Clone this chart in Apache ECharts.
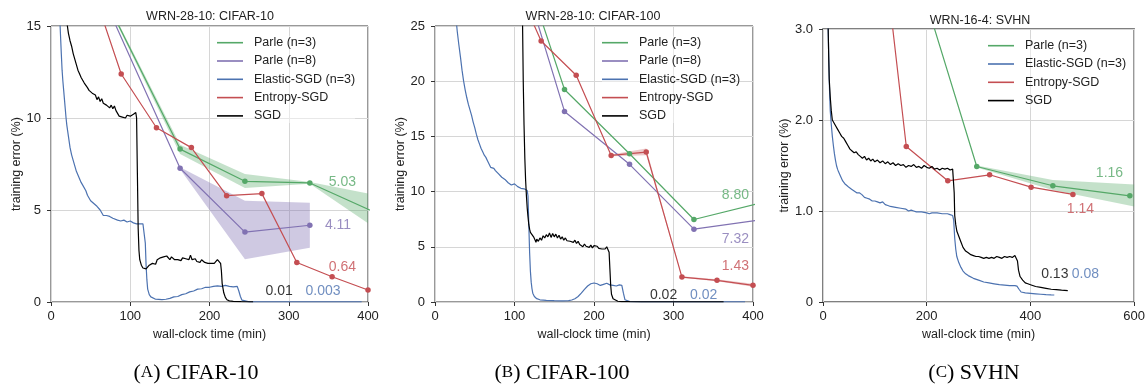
<!DOCTYPE html>
<html>
<head>
<meta charset="utf-8">
<script src="https://cdn.jsdelivr.net/npm/echarts@6/dist/echarts.min.js"></script>
<style>html,body{margin:0;padding:0;background:#fff;}#c{width:1148px;height:385px;}</style>
</head>
<body>
<div id="c"></div>
<script>
// ---------------- DATA ----------------
var seriesNames = ['Parle (n=3)', 'Parle (n=8)', 'Elastic-SGD (n=3)', 'Entropy-SGD', 'SGD'];
var panelTitles = ['WRN-28-10: CIFAR-10', 'WRN-28-10: CIFAR-100', 'WRN-16-4: SVHN'];
var captions = [['A', 'CIFAR-10'], ['B', 'CIFAR-100'], ['C', 'SVHN']];
var xTicks = [[0, 100, 200, 300, 400], [0, 100, 200, 300, 400], [0, 200, 400, 600]];
var yTicks = [[0, 5, 10, 15], [0, 5, 10, 15, 20, 25], [0, 1, 2, 3]];

// Panel A: CIFAR-10
var a_parle3 = [[81, 15.4], [162.9, 8.31], [244.7, 6.56], [326.6, 6.47], [408.4, 4.88]];
var a_parle3_hi = [[81, 15.5], [162.9, 8.55], [244.7, 6.95], [326.6, 6.52], [400, 5.9]];
var a_parle3_lo = [[81, 15.3], [162.9, 8.05], [244.7, 6.2], [326.6, 6.42], [400, 4.28]];
var a_parle8 = [[80, 15.2], [162.9, 7.27], [244.7, 3.8], [326.6, 4.17]];
var a_parle8_hi = [[162.9, 7.32], [244.7, 5.5], [326.6, 5.4]];
var a_parle8_lo = [[162.9, 7.22], [244.7, 2.33], [326.6, 2.95]];
var a_entropy = [[44.1, 18.1], [88.6, 12.39], [133.1, 9.47], [177.1, 8.39], [221.6, 5.78], [266.1, 5.89], [310.2, 2.15], [354.7, 1.37], [400, 0.65]];
var a_sgd = [[19, 16.5], [20, 15.2], [22, 14.6], [24, 14.2], [26, 13.9], [28, 13.5], [30, 13.2], [32, 12.9], [34, 12.6], [36, 12.4], [38, 12.2], [40, 12.1], [42, 11.9], [44, 11.8], [46, 11.65], [48, 11.5], [50, 11.6], [52, 11.35], [54, 11.3], [56, 11.25], [58, 11.0], [60, 11.15], [62, 10.9], [64, 11.05], [66, 10.8], [68, 10.85], [70, 10.7], [72, 10.8], [74, 10.55], [76, 10.7], [78, 10.5], [80, 10.65], [82, 10.4], [84, 10.3], [86, 10.1], [88, 10.15], [90, 10.05], [92, 10.1], [94, 10.0], [96, 10.15], [98, 10.05], [100, 10.1], [102, 10.0], [104, 10.2], [106, 10.15], [107, 10.3], [108, 10.0], [109, 7.0], [110, 4.0], [111, 2.8], [112, 2.3], [114, 2.0], [116, 1.85], [118, 1.95], [120, 1.8], [122, 1.85], [124, 2.0], [126, 1.9], [128, 2.1], [130, 2.2], [132, 2.05], [134, 2.3], [136, 2.2], [138, 2.4], [140, 2.3], [142, 2.45], [144, 2.35], [146, 2.5], [148, 2.4], [150, 2.3], [152, 2.45], [154, 2.35], [156, 2.3], [158, 2.4], [160, 2.3], [162, 2.35], [164, 2.25], [166, 2.4], [168, 2.3], [170, 2.35], [172, 2.45], [174, 2.3], [176, 2.55], [178, 2.3], [180, 2.25], [182, 2.35], [184, 2.2], [186, 2.25], [188, 2.15], [190, 2.3], [192, 2.2], [194, 2.15], [196, 2.25], [198, 2.1], [200, 2.2], [202, 2.1], [204, 2.2], [206, 2.1], [208, 2.15], [210, 2.3], [212, 2.25], [214, 2.1], [215, 1.7], [216, 1.0], [218, 0.5], [220, 0.25], [222, 0.12], [225, 0.06], [230, 0.03], [240, 0.015], [255, 0.01]];
var a_elastic = [[11, 15.5], [12, 14.5], [13, 13.5], [14, 12.6], [15, 12.0], [16, 11.5], [17, 11.0], [18, 10.5], [19, 10.0], [20, 9.6], [21, 9.3], [22, 9.0], [24, 8.4], [26, 8.0], [28, 7.7], [30, 7.4], [32, 7.1], [34, 6.9], [36, 6.7], [38, 6.5], [40, 6.35], [42, 6.25], [44, 6.05], [46, 5.8], [48, 5.65], [50, 5.5], [52, 5.45], [54, 5.35], [56, 5.3], [58, 5.2], [60, 5.1], [62, 5.0], [64, 4.85], [66, 4.7], [68, 4.8], [70, 4.7], [72, 4.75], [74, 4.65], [76, 4.6], [78, 4.55], [80, 4.5], [84, 4.45], [88, 4.4], [92, 4.45], [96, 4.35], [100, 4.4], [104, 4.3], [108, 4.25], [112, 4.25], [116, 4.25], [118, 4.2], [119, 3.2], [120, 2.0], [121, 1.2], [122, 0.7], [124, 0.4], [126, 0.28], [128, 0.2], [132, 0.15], [136, 0.14], [140, 0.13], [145, 0.15], [150, 0.2], [155, 0.28], [160, 0.3], [165, 0.4], [170, 0.45], [175, 0.55], [180, 0.6], [185, 0.7], [190, 0.72], [195, 0.8], [200, 0.8], [205, 0.85], [210, 0.88], [215, 0.85], [220, 0.9], [225, 0.85], [230, 0.82], [235, 0.85], [237, 0.6], [239, 0.3], [241, 0.1], [243, 0.03], [250, 0.005], [300, 0.003], [392, 0.003]];
var a_notes = [['5.03', 367.7, 6.54, 0], ['4.11', 362.2, 4.19, 1], ['0.64', 367.7, 1.88, 3], ['0.01', 287.9, 0.58, 4], ['0.003', 343.3, 0.58, 2]];

// Panel B: CIFAR-100
var b_parle3 = [[81.5, 36.9], [162.9, 19.25], [244.7, 13.43], [325.7, 7.47], [407.5, 8.94]];
var b_parle8 = [[81.5, 36.5], [162.9, 17.26], [244.7, 12.47], [325.7, 6.6], [407.5, 7.43]];
var b_entropy = [[89, 30.85], [133.5, 23.64], [177.6, 20.54], [221.6, 13.28], [265.7, 13.58], [310.6, 2.26], [354.7, 1.96], [400, 1.51]];
var b_entropy_hi = [[221.6, 13.36], [265.7, 13.9], [310.6, 2.33], [354.7, 2.05], [400, 1.66]];
var b_entropy_lo = [[221.6, 13.2], [265.7, 13.3], [310.6, 2.2], [354.7, 1.88], [400, 1.38]];
var b_sgd = [[109, 40], [110, 26], [111, 20], [112, 16], [113, 13], [114, 11], [115, 9.6], [116, 8.5], [117, 7.7], [118, 7.0], [119, 6.6], [120, 6.3], [122, 6.1], [124, 5.9], [126, 5.6], [127, 5.4], [128, 5.7], [130, 5.5], [132, 5.8], [134, 5.6], [136, 6.0], [138, 5.8], [140, 6.1], [142, 5.9], [144, 6.25], [146, 5.85], [148, 6.2], [150, 5.9], [152, 6.15], [154, 5.8], [156, 6.05], [158, 5.7], [160, 5.9], [162, 5.6], [164, 5.8], [166, 5.55], [168, 5.7], [170, 5.5], [172, 5.65], [174, 5.4], [176, 5.6], [178, 5.3], [180, 5.5], [182, 5.2], [184, 5.3], [186, 5.0], [188, 5.25], [190, 5.05], [192, 5.2], [194, 4.95], [196, 5.15], [198, 4.9], [200, 5.1], [202, 4.95], [204, 5.05], [206, 4.85], [208, 5.0], [210, 4.8], [212, 4.95], [214, 4.8], [216, 5.0], [218, 5.1], [219, 4.5], [220, 3.0], [221, 1.5], [222, 0.7], [224, 0.3], [226, 0.15], [230, 0.07], [235, 0.04], [245, 0.025], [260, 0.02], [363, 0.02]];
var b_elastic = [[26, 26], [28, 24.5], [30, 23.3], [32, 22.2], [34, 21.0], [36, 20.0], [38, 19.2], [40, 18.5], [42, 17.9], [44, 17.4], [46, 16.9], [48, 16.3], [50, 15.8], [52, 15.2], [54, 14.7], [56, 14.3], [58, 13.9], [60, 13.6], [62, 13.3], [64, 13.1], [66, 12.8], [68, 12.5], [70, 12.2], [72, 12.3], [74, 12.1], [76, 11.9], [78, 11.8], [80, 11.6], [82, 11.5], [84, 11.3], [86, 11.2], [88, 11.1], [90, 11.0], [92, 10.8], [94, 10.7], [96, 10.6], [98, 10.6], [100, 10.7], [102, 10.6], [104, 10.45], [106, 10.4], [108, 10.3], [110, 10.3], [112, 10.25], [114, 10.2], [116, 10.1], [117, 9.6], [118, 7.0], [119, 4.5], [120, 2.8], [121, 1.8], [122, 1.2], [123, 0.8], [125, 0.5], [128, 0.3], [132, 0.2], [140, 0.15], [150, 0.12], [160, 0.1], [168, 0.12], [172, 0.18], [176, 0.3], [180, 0.5], [184, 0.8], [188, 1.15], [192, 1.45], [196, 1.65], [200, 1.72], [204, 1.65], [208, 1.5], [212, 1.6], [216, 1.7], [220, 1.55], [224, 1.5], [228, 1.45], [232, 1.55], [235, 1.5], [237, 0.8], [239, 0.2], [241, 0.06], [245, 0.03], [260, 0.02], [390, 0.02]];
var b_notes = [['8.80', 377.8, 9.7, 0], ['7.32', 377.8, 5.69, 1], ['1.43', 377.8, 3.22, 3], ['0.02', 287.5, 0.66, 4], ['0.02', 337.9, 0.66, 2]];

// Panel C: SVHN
var c_parle3 = [[148.9, 4.23], [296.5, 1.489], [443.2, 1.277], [591.7, 1.167]];
var c_parle3_hi = [[296.5, 1.5], [443.2, 1.34], [600, 1.29]];
var c_parle3_lo = [[296.5, 1.478], [443.2, 1.23], [600, 1.05]];
var c_entropy = [[80.6, 5.68], [160.6, 1.709], [240.6, 1.332], [321.3, 1.398], [401.3, 1.262], [481.9, 1.182]];
var c_sgd = [[9, 3.3], [10, 3.0], [11, 2.7], [12, 2.45], [14, 2.25], [16, 2.1], [18, 2.0], [20, 1.98], [24, 1.94], [28, 1.9], [32, 1.86], [36, 1.82], [40, 1.8], [44, 1.76], [48, 1.72], [52, 1.68], [56, 1.66], [60, 1.64], [64, 1.65], [68, 1.62], [72, 1.6], [76, 1.58], [80, 1.6], [84, 1.56], [88, 1.58], [92, 1.55], [96, 1.57], [100, 1.54], [105, 1.56], [110, 1.53], [115, 1.55], [120, 1.52], [125, 1.54], [130, 1.51], [135, 1.53], [140, 1.5], [145, 1.52], [150, 1.5], [155, 1.51], [160, 1.48], [165, 1.5], [170, 1.49], [175, 1.51], [180, 1.48], [185, 1.49], [190, 1.47], [195, 1.5], [200, 1.48], [205, 1.47], [210, 1.49], [215, 1.46], [220, 1.47], [225, 1.45], [230, 1.47], [235, 1.46], [240, 1.47], [245, 1.45], [250, 1.46], [252, 1.45], [253, 1.2], [254, 0.95], [256, 0.85], [258, 0.78], [262, 0.72], [266, 0.66], [270, 0.6], [275, 0.56], [280, 0.54], [285, 0.52], [290, 0.51], [295, 0.5], [300, 0.5], [305, 0.49], [310, 0.48], [315, 0.49], [320, 0.48], [325, 0.49], [330, 0.48], [335, 0.5], [340, 0.49], [345, 0.48], [350, 0.5], [355, 0.49], [360, 0.5], [365, 0.49], [370, 0.51], [373, 0.5], [375, 0.45], [377, 0.35], [380, 0.28], [385, 0.24], [390, 0.21], [395, 0.2], [400, 0.19], [410, 0.17], [420, 0.16], [430, 0.15], [440, 0.14], [450, 0.135], [460, 0.13], [472, 0.125]];
var c_elastic = [[8, 3.3], [10, 3.0], [11, 2.7], [12, 2.45], [13, 2.25], [14, 2.1], [16, 1.95], [18, 1.82], [20, 1.72], [22, 1.63], [24, 1.56], [26, 1.5], [28, 1.46], [30, 1.43], [34, 1.38], [38, 1.33], [42, 1.3], [46, 1.28], [50, 1.26], [55, 1.24], [60, 1.22], [65, 1.2], [70, 1.2], [75, 1.18], [80, 1.15], [85, 1.14], [90, 1.13], [95, 1.11], [100, 1.11], [105, 1.1], [110, 1.09], [115, 1.1], [120, 1.07], [125, 1.06], [130, 1.05], [140, 1.04], [150, 1.03], [160, 1.02], [165, 1.0], [170, 1.01], [175, 1.0], [180, 0.99], [190, 0.99], [200, 0.98], [205, 0.97], [210, 0.98], [220, 0.98], [230, 0.97], [240, 0.97], [245, 0.96], [250, 0.95], [252, 0.9], [254, 0.7], [256, 0.58], [258, 0.5], [262, 0.43], [266, 0.38], [270, 0.34], [275, 0.31], [280, 0.29], [290, 0.26], [300, 0.24], [310, 0.22], [320, 0.21], [330, 0.2], [340, 0.19], [350, 0.185], [360, 0.18], [370, 0.18], [374, 0.175], [378, 0.14], [382, 0.11], [390, 0.1], [400, 0.095], [410, 0.09], [420, 0.085], [430, 0.08], [440, 0.078], [446, 0.077]];
var c_notes = [['1.16', 552.4, 1.416, 0], ['1.14', 496.5, 1.021, 3], ['0.13', 447, 0.311, 4], ['0.08', 506, 0.311, 2]];

// ---------------- STYLE / LAYOUT ----------------
var colors = ['#55A868', '#8172B2', '#4C72B0', '#C44E52', '#000000'];
var bandColors = ['rgba(85,168,104,0.35)', 'rgba(129,114,178,0.38)', 'rgba(76,114,176,0.3)', 'rgba(196,78,82,0.3)'];
var SANS = '"Liberation Sans", Arial, sans-serif';
var SERIF = '"Liberation Serif", "Times New Roman", serif';
var grids = [
  {left: 51, top: 26, width: 317, height: 276},
  {left: 435, top: 26, width: 318, height: 276},
  {left: 823, top: 29, width: 315, height: 273}
];
var xMax = [400, 400, 600], xInt = [100, 100, 200];
var yMax = [15, 25, 3], yInt = [5, 5, 1];
var titleX = [210, 593, 980], titleTop = [10, 10, 14];
var legendPos = [[217, 35.7], [602, 35.7], [988, 38.7]];
var yNameGap = [27, 26, 27.5];
var captionX = [196, 562, 974];

var option = {
  animation: false,
  backgroundColor: '#fff',
  title: [], grid: [], xAxis: [], yAxis: [], legend: [], series: [],
  graphic: []
};

for (var i = 0; i < 3; i++) {
  option.grid.push(Object.assign({show: true, borderColor: i === 2 ? '#555' : '#333', borderWidth: i === 2 ? 1.5 : 1, backgroundColor: 'transparent'}, grids[i]));
  option.title.push({text: panelTitles[i], left: titleX[i], top: titleTop[i], textAlign: 'center', padding: 0,
    textStyle: {fontFamily: SANS, fontSize: 12.5, fontWeight: 'normal', color: '#222'}});
  option.xAxis.push({type: 'value', gridIndex: i, min: 0, max: xMax[i], interval: xInt[i],
    name: 'wall-clock time (min)', nameLocation: 'middle', nameGap: 22,
    nameTextStyle: {fontFamily: SANS, fontSize: 12.5, color: '#222'},
    axisLine: {show: false}, axisTick: {show: true, length: 4, lineStyle: {color: '#333'}},
    axisLabel: {fontFamily: SANS, fontSize: 13, color: '#222', margin: 8},
    splitLine: {show: true, lineStyle: {color: '#d6d6d6', width: 1}}});
  option.yAxis.push({type: 'value', gridIndex: i, min: 0, max: yMax[i], interval: yInt[i],
    name: 'training error (%)', nameLocation: 'middle', nameGap: yNameGap[i],
    nameTextStyle: {fontFamily: SANS, fontSize: 12.5, color: '#222'},
    axisLine: {show: false}, axisTick: {show: true, length: 4, lineStyle: {color: '#333'}},
    axisLabel: {fontFamily: SANS, fontSize: 13, color: '#222', margin: 10,
      formatter: i === 2 ? function (v) { return v === 0 ? '0' : v.toFixed(1); } : null},
    splitLine: {show: true, lineStyle: {color: '#d6d6d6', width: 1}}});
  option.legend.push({orient: 'vertical', left: legendPos[i][0], top: legendPos[i][1], padding: 0,
    itemWidth: 26, itemHeight: 1.6, itemGap: 4.3, icon: 'rect',
    backgroundColor: 'rgba(255,255,255,0.45)',
    data: i === 2 ? [seriesNames[0], seriesNames[2], seriesNames[3], seriesNames[4]] : seriesNames.slice(),
    textStyle: {fontFamily: SANS, fontSize: 12.5, color: '#222', lineHeight: 14, padding: [0, 0, 0, 6]}});
  option.graphic.push({type: 'text', x: captionX[i], y: 362, style: {
    text: '{n|(}{s|' + captions[i][0] + '}{n|) ' + captions[i][1] + '}',
    rich: {n: {fontFamily: SERIF, fontSize: 22, color: '#000'},
           s: {fontFamily: SERIF, fontSize: 17, color: '#000'}},
    align: 'center', verticalAlign: 'top', textAlign: 'center', textVerticalAlign: 'top'}});
}

function lineSeries(idx, nameIdx, data, markers) {
  return {type: 'line', name: seriesNames[nameIdx], xAxisIndex: idx, yAxisIndex: idx, data: data,
    color: colors[nameIdx], clip: true, z: 3,
    showSymbol: !!markers, showAllSymbol: true, symbol: 'circle', symbolSize: 5.5,
    itemStyle: {color: colors[nameIdx], borderWidth: 0},
    lineStyle: {width: 1.2, color: colors[nameIdx]}};
}
function bandSeries(idx, colorIdx, hi, lo) {
  return {type: 'custom', xAxisIndex: idx, yAxisIndex: idx, silent: true, clip: true, z: 1,
    data: [[hi[0][0], hi[0][1]]], encode: {x: 0, y: 1},
    renderItem: function (params, api) {
      var pts = hi.map(function (p) { return api.coord(p); })
        .concat(lo.slice().reverse().map(function (p) { return api.coord(p); }));
      return {type: 'polygon', shape: {points: pts}, style: {fill: bandColors[colorIdx]}};
    }};
}
function noteSeries(idx, notes) {
  return {type: 'scatter', xAxisIndex: idx, yAxisIndex: idx, silent: true, z: 5, symbolSize: 1,
    itemStyle: {color: 'rgba(0,0,0,0)'},
    data: notes.map(function (n) {
      return {value: [n[1], n[2]], label: {show: true, position: 'inside', formatter: n[0],
        fontFamily: SANS, fontSize: 14, color: colors[n[3]]}};
    })};
}

// Panel A
option.series.push(bandSeries(0, 0, a_parle3_hi, a_parle3_lo));
option.series.push(bandSeries(0, 1, a_parle8_hi, a_parle8_lo));
option.series.push(lineSeries(0, 0, a_parle3, true));
option.series.push(lineSeries(0, 1, a_parle8, true));
option.series.push(lineSeries(0, 2, a_elastic, false));
option.series.push(lineSeries(0, 3, a_entropy, true));
option.series.push(lineSeries(0, 4, a_sgd, false));
option.series.push(noteSeries(0, a_notes));
// Panel B
option.series.push(bandSeries(1, 3, b_entropy_hi, b_entropy_lo));
option.series.push(lineSeries(1, 0, b_parle3, true));
option.series.push(lineSeries(1, 1, b_parle8, true));
option.series.push(lineSeries(1, 2, b_elastic, false));
option.series.push(lineSeries(1, 3, b_entropy, true));
option.series.push(lineSeries(1, 4, b_sgd, false));
option.series.push(noteSeries(1, b_notes));
// Panel C
option.series.push(bandSeries(2, 0, c_parle3_hi, c_parle3_lo));
option.series.push(lineSeries(2, 0, c_parle3, true));
option.series.push(lineSeries(2, 2, c_elastic, false));
option.series.push(lineSeries(2, 3, c_entropy, true));
option.series.push(lineSeries(2, 4, c_sgd, false));
option.series.push(noteSeries(2, c_notes));

var chart = echarts.init(document.getElementById('c'), null, {renderer: 'canvas'});
chart.setOption(option);
</script>
</body>
</html>
